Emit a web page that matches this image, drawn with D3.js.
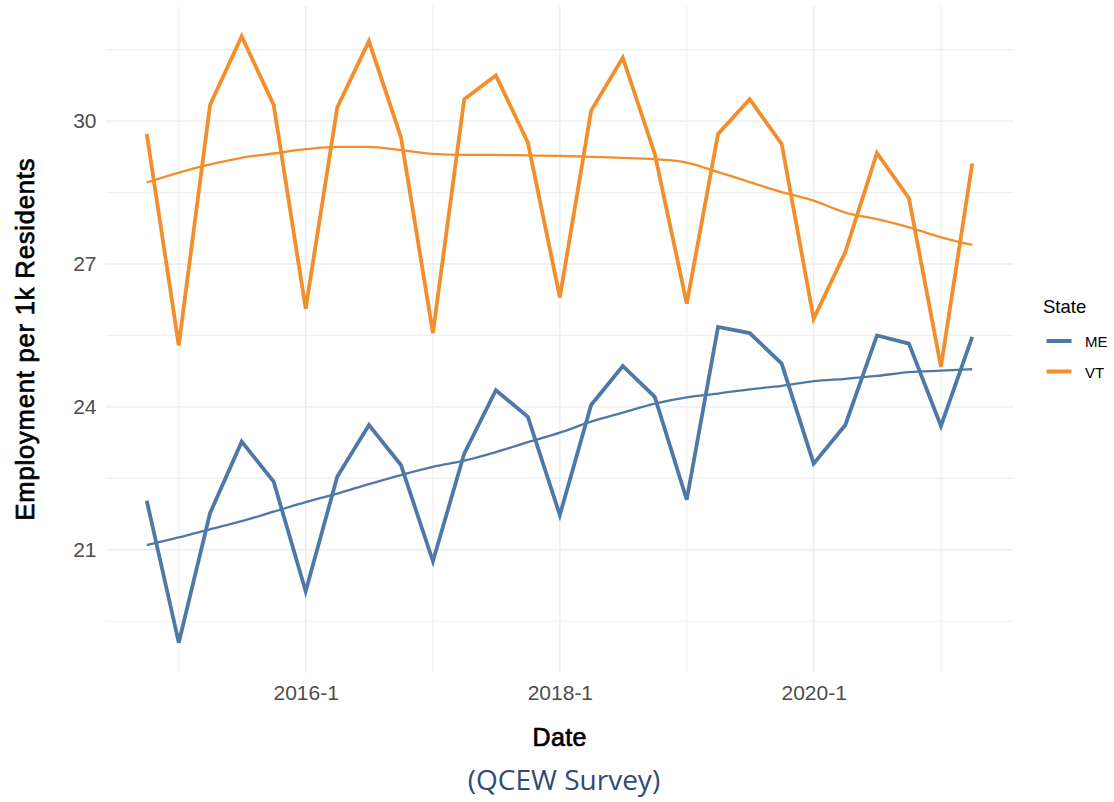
<!DOCTYPE html>
<html>
<head>
<meta charset="utf-8">
<script src="https://cdn.jsdelivr.net/npm/d3@7"></script>
<style>
  html, body { margin: 0; padding: 0; background: #fff; }
  svg { display: block; }
</style>
</head>
<body>
<svg id="chart" width="1114" height="802"></svg>
<script>
// ---------- data ----------
const quarters = ["2014-10","2015-01","2015-04","2015-07","2015-10","2016-01","2016-04","2016-07","2016-10",
  "2017-01","2017-04","2017-07","2017-10","2018-01","2018-04","2018-07","2018-10","2019-01","2019-04",
  "2019-07","2019-10","2020-01","2020-04","2020-07","2020-10","2021-01","2021-04"];
const meValues = [22.03,19.05,21.77,23.27,22.43,20.13,22.54,23.62,22.78,20.76,23.02,24.35,23.79,21.73,
  24.04,24.86,24.21,22.05,25.68,25.55,24.91,22.81,23.62,25.50,25.33,23.60,25.47];
const vtValues = [29.73,25.29,30.34,31.78,30.34,26.06,30.29,31.68,29.66,25.55,30.46,30.96,29.55,26.30,
  30.22,31.33,29.31,26.17,29.73,30.46,29.52,25.85,27.25,29.33,28.38,24.84,29.11];
const meSmooth = [21.10,21.26,21.43,21.60,21.80,22.00,22.18,22.38,22.57,22.74,22.87,23.05,23.26,23.46,
  23.69,23.88,24.07,24.20,24.28,24.37,24.44,24.54,24.59,24.65,24.73,24.76,24.79];
const vtSmooth = [28.71,28.92,29.09,29.23,29.32,29.41,29.46,29.46,29.39,29.31,29.29,29.29,29.28,29.27,
  29.25,29.23,29.20,29.13,28.93,28.72,28.51,28.33,28.08,27.94,27.77,27.56,27.40];
const states = ["ME","VT"];
const stateColors = ["#4E79A7","#F28E2B"];
const yMajorTicks = [21,24,27,30];
const yMinorTicks = [19.5,22.5,25.5,28.5,31.5];
const xMajorTicks = ["2016-01","2018-01","2020-01"];
const xMajorLabels = ["2016-1","2018-1","2020-1"];
const xMinorTicks = ["2015-01","2017-01","2019-01","2021-01"];
const xTitle = "Date";
const yTitle = "Employment per 1k Residents";
const legendTitle = "State";
const caption = "(QCEW Survey)";

// ---------- layout ----------
const svg = d3.select("#chart");
const panel = {left: 105.5, right: 1013.5, top: 6, bottom: 673};
const parse = d3.timeParse("%Y-%m");
const dates = quarters.map(parse);

const series = [
  {name: "ME", values: meValues, smooth: meSmooth},
  {name: "VT", values: vtValues, smooth: vtSmooth}
];

// scales with ggplot-like 5% expansion
const xExt = d3.extent(dates);
const xSpan = xExt[1] - xExt[0];
const x = d3.scaleTime()
  .domain([new Date(+xExt[0] - 0.05 * xSpan), new Date(+xExt[1] + 0.05 * xSpan)])
  .range([panel.left, panel.right]);
const allY = meValues.concat(vtValues);
const yExt = d3.extent(allY);
const ySpan = yExt[1] - yExt[0];
const y = d3.scaleLinear()
  .domain([yExt[0] - 0.05 * ySpan, yExt[1] + 0.05 * ySpan])
  .range([panel.bottom, panel.top]);
const color = d3.scaleOrdinal().domain(states).range(stateColors);

// ---------- grid ----------
const grid = svg.append("g");
grid.selectAll("line.ymin").data(yMinorTicks).join("line")
  .attr("x1", panel.left).attr("x2", panel.right)
  .attr("y1", d => y(d)).attr("y2", d => y(d))
  .attr("stroke", "#EFEFEF").attr("stroke-width", 1.2);
grid.selectAll("line.xmin").data(xMinorTicks.map(parse)).join("line")
  .attr("y1", panel.top).attr("y2", panel.bottom)
  .attr("x1", d => x(d)).attr("x2", d => x(d))
  .attr("stroke", "#EFEFEF").attr("stroke-width", 1.2);
grid.selectAll("line.ymaj").data(yMajorTicks).join("line")
  .attr("x1", panel.left).attr("x2", panel.right)
  .attr("y1", d => y(d)).attr("y2", d => y(d))
  .attr("stroke", "#EBEBEB").attr("stroke-width", 1.4);
grid.selectAll("line.xmaj").data(xMajorTicks.map(parse)).join("line")
  .attr("y1", panel.top).attr("y2", panel.bottom)
  .attr("x1", d => x(d)).attr("x2", d => x(d))
  .attr("stroke", "#EBEBEB").attr("stroke-width", 1.4);

// ---------- axes (text only, like theme_minimal) ----------
const yAxis = d3.axisLeft(y).tickValues(yMajorTicks).tickSize(0).tickPadding(9).tickFormat(d3.format("d"));
const gy = svg.append("g").attr("transform", `translate(${panel.left},0)`).call(yAxis);
gy.select(".domain").remove();
gy.selectAll("text").attr("fill", "#4D4D4D").style("font-family", "'Liberation Sans', Arial, sans-serif").style("font-size", "21px");

const xLabelMap = new Map(xMajorTicks.map((k, i) => [+parse(k), xMajorLabels[i]]));
const xAxis = d3.axisBottom(x).tickValues(xMajorTicks.map(parse)).tickSize(0).tickPadding(12)
  .tickFormat(d => xLabelMap.get(+d));
const gx = svg.append("g").attr("transform", `translate(0,${panel.bottom})`).call(xAxis);
gx.select(".domain").remove();
gx.selectAll("text").attr("fill", "#4D4D4D").style("font-family", "'Liberation Sans', Arial, sans-serif").style("font-size", "21px");

// ---------- lines ----------
const line = d3.line().x((d) => x(d[0])).y((d) => y(d[1]));
const marks = svg.append("g");
series.forEach(s => {
  marks.append("path")
    .datum(dates.map((d, i) => [d, s.values[i]]))
    .attr("d", line)
    .attr("fill", "none")
    .attr("stroke", color(s.name))
    .attr("stroke-width", 3.8)
    .attr("stroke-linejoin", "miter");
});
series.forEach(s => {
  marks.append("path")
    .datum(dates.map((d, i) => [d, s.smooth[i]]))
    .attr("d", d3.line().curve(d3.curveMonotoneX).x(d => x(d[0])).y(d => y(d[1])))
    .attr("fill", "none")
    .attr("stroke", color(s.name))
    .attr("stroke-width", 2.3);
});

// ---------- titles ----------
svg.append("text")
  .attr("x", (panel.left + panel.right) / 2).attr("y", 746)
  .attr("text-anchor", "middle")
  .attr("textLength", 54).attr("lengthAdjust", "spacing")
  .style("font-family", "'Liberation Sans', Arial, sans-serif").style("font-size", "25px")
  .attr("stroke", "#000").attr("stroke-width", 0.7)
  .attr("fill", "#000").text(xTitle);
svg.append("text")
  .attr("transform", `translate(34,${(panel.top + panel.bottom) / 2}) rotate(-90)`)
  .attr("text-anchor", "middle")
  .attr("textLength", 362).attr("lengthAdjust", "spacing")
  .style("font-family", "'Liberation Sans', Arial, sans-serif").style("font-size", "25.5px")
  .attr("stroke", "#000").attr("stroke-width", 0.7)
  .attr("fill", "#000").text(yTitle);

// ---------- legend ----------
const lg = svg.append("g");
lg.append("text").attr("x", 1043).attr("y", 313)
  .style("font-family", "'Liberation Sans', Arial, sans-serif").style("font-size", "18.5px")
  .attr("fill", "#000").text(legendTitle);
states.forEach((st, i) => {
  const cy = 341 + i * 30.5;
  lg.append("line").attr("x1", 1046.5).attr("x2", 1071.5).attr("y1", cy).attr("y2", cy)
    .attr("stroke", color(st)).attr("stroke-width", 4);
  lg.append("text").attr("x", 1085).attr("y", cy + 6)
    .style("font-family", "'Liberation Sans', Arial, sans-serif").style("font-size", "15px")
    .attr("fill", "#000").text(st);
});

// ---------- caption ----------
svg.append("text")
  .attr("x", 564).attr("y", 790)
  .attr("text-anchor", "middle")
  .style("font-family", "'Open Sans', sans-serif").style("font-size", "28px")
  .attr("fill", "#2E4A78").text(caption);
</script>
</body>
</html>
